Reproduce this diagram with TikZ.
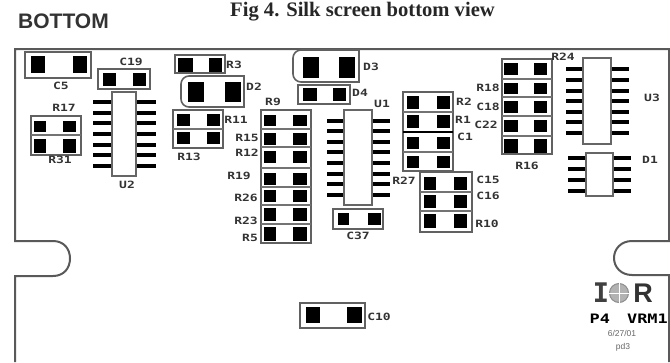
\documentclass[tikz,border=0pt]{standalone}
\usepackage{fontspec}
\setmainfont{Liberation Serif}
\setsansfont{Liberation Sans}
\newfontfamily\silkfont[FakeStretch=1.3]{DejaVu Sans Mono}
\newfontfamily\logofont{DejaVu Sans Mono}
\tikzset{
    board/.style={draw=black!65, line width=2pt},
    padbox/.style={draw=black!62, line width=2.6pt, fill=white},
    rule/.style={draw=black!55, line width=2pt},
    pad/.style={fill=black},
    pin/.style={draw=black, line width=3.6pt},
    icbody/.style={draw=black!60, line width=1.6pt, fill=white},
    silk/.style={font=\silkfont\bfseries\fontsize{10}{10}\selectfont, text=black!80, inner sep=0pt},
}
\begin{document}
\begin{tikzpicture}[x=1pt, y=-1pt]
    \useasboundingbox (0,0) rectangle (670,362);

    \node[font=\sffamily\bfseries\fontsize{21}{21}\selectfont, text=black!80, inner sep=0pt] (bottom) at (63.5,21) {BOTTOM};
    \node[font=\rmfamily\bfseries\fontsize{20.6}{21}\selectfont, text=black!85, inner sep=0pt] (title) at (362.5,12) {Fig 4. Silk screen bottom view};

    \draw[board] (15,362) -- (15,276) -- (53,276) .. controls (64,276) and (70,268) .. (70,258.5)
        .. controls (70,249) and (64,241) .. (53,241) -- (15,241) -- (15,49) -- (669,49) -- (669,241) -- (632,241)
        .. controls (621,241) and (614,249) .. (614,258) .. controls (614,267) and (621,275) .. (632,275)
        -- (669,275) -- (669,362);

    \foreach \xa/\ya/\xb/\yb in {25/52/91/78, 98/69/150/89, 175/55/225/73, 173/110/223/148, 31/116/81/155,
        298/85/350/104, 261/110/311/243, 333/209/383/229, 403/92/453/171, 420/172/472/232, 502/59/552/154, 300/303/365/328}
        \draw[padbox] (\xa,\ya) rectangle (\xb,\yb);

    \draw[padbox, line width=1.6pt] (244,76) [rounded corners=8pt] -- (181,76) -- (181,107) [sharp corners] -- (244,107) -- cycle;
    \draw[padbox, line width=1.6pt] (359,50) [rounded corners=8pt] -- (293,50) -- (293,82) [sharp corners] -- (359,82) -- cycle;

    \foreach \xa/\xb/\y in {173/223/129, 31/81/135, 261/311/129, 261/311/147, 261/311/168, 261/311/187, 261/311/205, 261/311/224,
        403/453/112, 403/453/152, 420/472/192, 420/472/211, 502/552/79, 502/552/97, 502/552/116, 502/552/136}
        \draw[rule] (\xa,\y) -- (\xb,\y);
    \draw[draw=black, line width=1.4pt] (403,132) -- (453,132);

    \foreach \xa/\ya/\xb/\yb in {31/56/45/73, 73/56/87/73,
        103/73/116/86, 133/73/146/86,
        178/58/193/72, 209/58/222/72,
        188/82/204/102, 225/82/241/102,
        177/114/190/126, 207/114/220/126, 177/132/190/144, 207/132/220/144,
        34/121/46/132, 63/121/76/132, 34/139/46/153, 63/139/76/153,
        303/57/319/78, 339/57/355/78,
        303/88/317/101, 333/88/346/101,
        338/213/349/225, 368/213/381/225,
        306/307/320/323, 347/307/362/323}
        \fill[pad] (\xa,\ya) rectangle (\xb,\yb);

    \foreach \ya/\yb in {115/126, 133/145, 151/163, 173/185, 190/202, 208/221, 227/241}{
        \fill[pad] (264,\ya) rectangle (276,\yb);
        \fill[pad] (293,\ya) rectangle (307,\yb);
    }
    \foreach \ya/\yb in {96/109, 115/128, 137/149, 156/168}{
        \fill[pad] (407,\ya) rectangle (419,\yb);
        \fill[pad] (437,\ya) rectangle (450,\yb);
    }
    \foreach \ya/\yb in {177/190, 195/208, 214/228}{
        \fill[pad] (424,\ya) rectangle (436,\yb);
        \fill[pad] (454,\ya) rectangle (467,\yb);
    }
    \foreach \ya/\yb in {63/75, 83/94, 101/113, 120/132, 139/153}{
        \fill[pad] (504,\ya) rectangle (518,\yb);
        \fill[pad] (534,\ya) rectangle (547,\yb);
    }

    \foreach \y in {102,113,123,134,145,155,166}{
        \draw[pin] (93,\y) -- (112,\y);
        \draw[pin] (137,\y) -- (156,\y);
    }
    \foreach \y in {121,131,142,152,163,174,184,195}{
        \draw[pin] (327,\y) -- (345,\y);
        \draw[pin] (372,\y) -- (390,\y);
    }
    \foreach \y in {69,80,91,101,112,122,133}{
        \draw[pin] (566,\y) -- (584,\y);
        \draw[pin] (611,\y) -- (629,\y);
    }
    \foreach \y in {158,169,180,191}{
        \draw[pin] (568,\y) -- (587,\y);
        \draw[pin] (612,\y) -- (631,\y);
    }
    \draw[icbody] (112,92) rectangle (136,176);
    \draw[icbody] (344,110) rectangle (372,205);
    \draw[icbody] (583,58) rectangle (611,144);
    \draw[icbody] (586,153) rectangle (613,196);

    \node[silk] (c5) at (61,86) {C5};
    \node[silk] (c19) at (131,62) {C19};
    \node[silk] (r17) at (64,108) {R17};
    \node[silk] (r31) at (60,160) {R31};
    \node[silk] (u2) at (127,185) {U2};
    \node[silk] (r3) at (234,65) {R3};
    \node[silk] (d2) at (254,87) {D2};
    \node[silk] (r11) at (236,120) {R11};
    \node[silk] (r13) at (189,157) {R13};
    \node[silk] (r9) at (273,102) {R9};
    \node[silk] (r15) at (247,138) {R15};
    \node[silk] (r12) at (247,153) {R12};
    \node[silk] (r19) at (239,176) {R19};
    \node[silk] (r26) at (246,198) {R26};
    \node[silk] (r23) at (246,221) {R23};
    \node[silk] (r5) at (250,238) {R5};
    \node[silk] (d3) at (371,67) {D3};
    \node[silk] (d4) at (360,93) {D4};
    \node[silk] (u1) at (382,104) {U1};
    \node[silk] (r27) at (404,181) {R27};
    \node[silk] (c37) at (358,236) {C37};
    \node[silk] (r2) at (464,102) {R2};
    \node[silk] (r1) at (463,120) {R1};
    \node[silk] (c1) at (465,137) {C1};
    \node[silk] (r18) at (488,88) {R18};
    \node[silk] (c18) at (488,107) {C18};
    \node[silk] (c22) at (486,125) {C22};
    \node[silk] (r16) at (527,166) {R16};
    \node[silk] (r24) at (563,57) {R24};
    \node[silk] (c15) at (488,180) {C15};
    \node[silk] (c16) at (488,196) {C16};
    \node[silk] (r10) at (487,224) {R10};
    \node[silk] (u3) at (652,98) {U3};
    \node[silk] (d1) at (650,160) {D1};
    \node[silk] (c10) at (379,317) {C10};

    \node[font=\logofont\bfseries\fontsize{27}{27}\selectfont, text=black!75, inner sep=0pt] (logoi) at (601,293) {I};
    \node[circle, draw=black!45, fill=black!30, line width=1pt, minimum size=19pt, inner sep=0pt] (logoc) at (619,293) {};
    \draw[draw=white, line width=1pt] (logoc.north) -- (logoc.south);
    \draw[draw=white, line width=1pt] (logoc.west) -- (logoc.east);
    \node[font=\sffamily\bfseries\fontsize{27}{27}\selectfont, text=black!80, inner sep=0pt] (logor) at (643,293) {R};
    \node[font=\silkfont\bfseries\fontsize{13}{13}\selectfont, text=black, inner sep=0pt, anchor=east] (vrm) at (668,319) {P4\hspace{7pt} VRM1};
    \node[font=\sffamily\fontsize{8.5}{8.5}\selectfont, text=black!60, inner sep=0pt] (date) at (622,333) {6/27/01};
    \node[font=\sffamily\fontsize{8.5}{8.5}\selectfont, text=black!60, inner sep=0pt] (rev) at (623,347) {pd3};
\end{tikzpicture}
\end{document}
